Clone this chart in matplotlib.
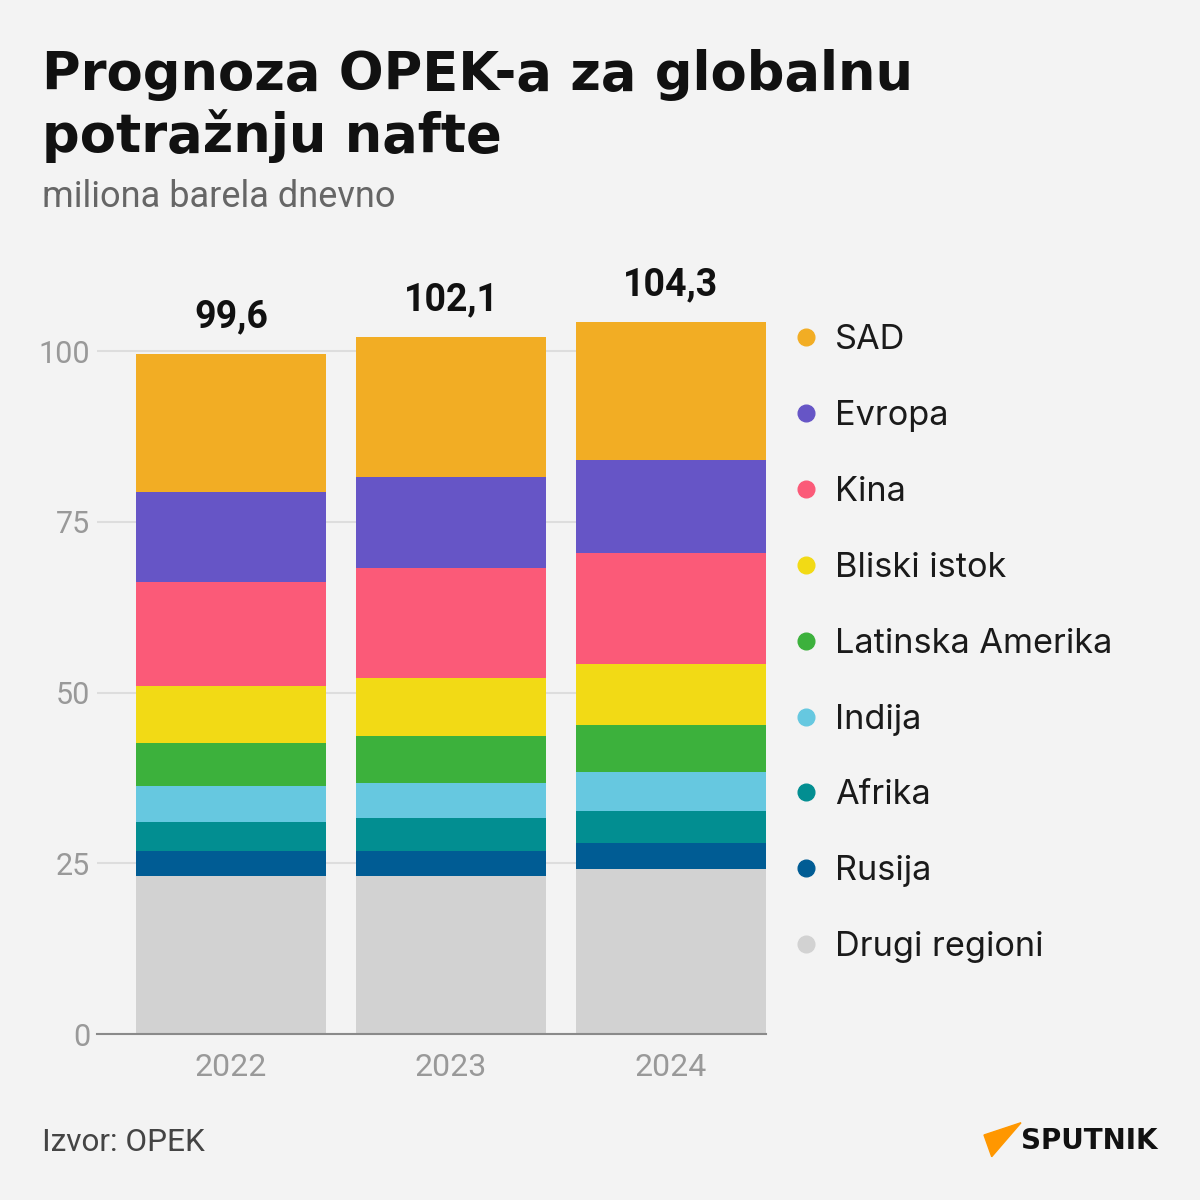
import matplotlib
matplotlib.use('Agg')
import matplotlib.pyplot as plt
from matplotlib.lines import Line2D
from matplotlib.patches import Polygon
import numpy as np

# podaci (miliona barela dnevno), od dna ka vrhu
years = ['2022', '2023', '2024']
totals = [99.6, 102.1, 104.3]
regions = ['Drugi regioni', 'Rusija', 'Afrika', 'Indija', 'Latinska Amerika',
           'Bliski istok', 'Kina', 'Evropa', 'SAD']
drugi = [23.1, 23.1, 24.2]
rusija = [3.7, 3.7, 3.7]
afrika = [4.2, 4.8, 4.7]
indija = [5.3, 5.2, 5.8]
latinska = [6.3, 6.9, 6.8]
bliski = [8.4, 8.4, 8.9]
kina = [15.2, 16.2, 16.3]
evropa = [13.2, 13.2, 13.6]
sad = [20.2, 20.6, 20.3]
colors = ['#d2d2d2', '#005c94', '#028e91', '#66c8e0', '#3cb13c',
          '#f2da15', '#fb5a78', '#6655c6', '#f2ad24']

BG = '#f3f3f3'
W, H = 1200, 1200

fig = plt.figure(figsize=(12, 12), dpi=100, facecolor=BG)
ax = fig.add_axes([97 / W, 1 - 1034 / H, 669 / W, (1034 - 282.7) / H])
ax.set_facecolor(BG)

series = [drugi, rusija, afrika, indija, latinska, bliski, kina, evropa, sad]
x = np.arange(len(years))
bottom = np.zeros(len(years))
for vals, col, name in zip(series, colors, regions):
    ax.bar(x, vals, bottom=bottom, width=0.864, color=col, label=name, zorder=3)
    bottom += np.array(vals)

for xi, t in zip(x, totals):
    ax.annotate(str(t).replace('.', ','), xy=(xi, t), xytext=(0, 19), textcoords='offset points',
                ha='center', va='baseline', fontsize=27, fontweight='bold', color='#111111',
                family='Roboto')

ax.set_xlim(-0.609, 2.432)
ax.set_ylim(0, 110)
ax.set_yticks([0, 25, 50, 75, 100])
ax.set_xticks(x)
ax.set_xticklabels(years)
ax.grid(axis='y', color='#dddddd', lw=1.5, zorder=0)
for s in ['top', 'right', 'left']:
    ax.spines[s].set_visible(False)
ax.spines['bottom'].set_color('#8a8a8a')
ax.spines['bottom'].set_linewidth(1.5)
ax.spines['bottom'].set_zorder(4)
ax.tick_params(axis='both', length=0, labelcolor='#999999', labelsize=22)
ax.tick_params(axis='y', pad=5)
ax.tick_params(axis='x', pad=14, labelsize=23)
for lab in ax.get_xticklabels() + ax.get_yticklabels():
    lab.set_family('Roboto')

# legenda
handles = [Line2D([], [], marker='o', ls='', markersize=12, color=c) for c in colors[::-1]]
leg = fig.legend(handles, regions[::-1], loc='upper left', bbox_to_anchor=(797 / W, 1 - 324 / H),
                 frameon=False, fontsize=24.7, handlelength=0.55, handletextpad=0.55,
                 labelspacing=1.28, borderpad=0, borderaxespad=0)
for t in leg.get_texts():
    t.set_color('#1a1a1a')
    t.set_family('Inter')

# naslovi
fig.text(42 / W, 1 - 90 / H, 'Prognoza OPEK-a za globalnu', fontsize=38,
         fontweight='bold', family='DejaVu Sans', color='#111111', va='baseline')
fig.text(42 / W, 1 - 152 / H, 'potražnju nafte', fontsize=38,
         fontweight='bold', family='DejaVu Sans', color='#111111', va='baseline')
fig.text(42 / W, 1 - 207 / H, 'miliona barela dnevno', fontsize=26, family='Roboto',
         color='#666666', va='baseline')
fig.text(42 / W, 1 - 1151 / H, 'Izvor: OPEK', fontsize=22.7, family='Roboto',
         color='#444444', va='baseline')

# logo
tri = Polygon([[984 / W, 1 - 1135 / H], [1021 / W, 1 - 1122.7 / H], [991.7 / W, 1 - 1156.7 / H]],
              closed=True, transform=fig.transFigure, color='#ff9700')
fig.add_artist(tri)
fig.text(1021 / W, 1 - 1149 / H, 'SPUTNIK', fontsize=20, fontweight='bold', family='DejaVu Sans',
         color='#111111', va='baseline')

fig.savefig('out.png', dpi=100, facecolor=BG)
